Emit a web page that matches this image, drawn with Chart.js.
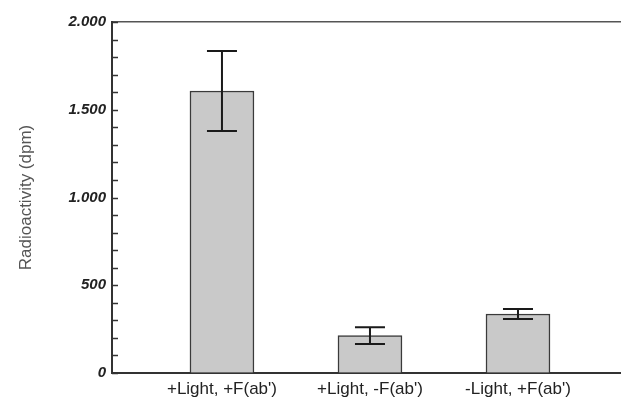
<!DOCTYPE html>
<html>
<head>
<meta charset="utf-8">
<script src="https://cdn.jsdelivr.net/npm/chart.js"></script>
<style>
  body { margin: 0; background: #fff; }
  #wrap { width: 621px; height: 400px; }
</style>
</head>
<body>
<div id="wrap"><canvas id="radioChart"></canvas></div>
<script>
    // ==============================
    // Datos
    // ==============================
    var categorias = ["+Light, +F(ab')", "+Light, -F(ab')", "-Light, +F(ab')"];
    var posiciones = [1, 2, 3];
    var valores = [1607, 213, 336];
    var errores = [228, 48, 28];
    var ticksMayores = [0, 500, 1000, 1500, 2000];

    function formatoMiles(v) {
        if (v >= 1000) {
            var s = String(v);
            return s.slice(0, s.length - 3) + "." + s.slice(-3);
        }
        return String(v);
    }

    // barras de error, dibujadas con las escalas del grafico
    var barrasError = {
        id: "barrasError",
        afterDatasetsDraw: function(chart) {
            var ctx = chart.ctx;
            var yScale = chart.scales.y;
            var meta = chart.getDatasetMeta(0);
            ctx.save();
            ctx.strokeStyle = "#1a1a1a";
            ctx.lineWidth = 2;
            meta.data.forEach(function(bar, i) {
                var yTop = yScale.getPixelForValue(valores[i] + errores[i]);
                var yBot = yScale.getPixelForValue(valores[i] - errores[i]);
                var cap = 15;
                ctx.beginPath();
                ctx.moveTo(bar.x, yTop); ctx.lineTo(bar.x, yBot);
                ctx.moveTo(bar.x - cap, yTop); ctx.lineTo(bar.x + cap, yTop);
                ctx.moveTo(bar.x - cap, yBot); ctx.lineTo(bar.x + cap, yBot);
                ctx.stroke();
            });
            ctx.restore();
        }
    };

    // marcas menores hacia dentro del eje Y
    var marcasEje = {
        id: "marcasEje",
        afterDraw: function(chart) {
            var ctx = chart.ctx;
            var yScale = chart.scales.y;
            var x0 = chart.chartArea.left;
            ctx.save();
            ctx.strokeStyle = "#333";
            ctx.lineWidth = 1.5;
            yScale.ticks.forEach(function(t) {
                var y = Math.round(yScale.getPixelForValue(t.value)) + 0.5;
                ctx.beginPath();
                ctx.moveTo(x0, y);
                ctx.lineTo(x0 + 6, y);
                ctx.stroke();
            });
            ctx.restore();
        }
    };

    var ctxRadio = document.getElementById("radioChart").getContext("2d");
    var radioChart = new Chart(ctxRadio, {
        type: "bar",
        data: {
            datasets: [{
                data: posiciones.map(function(p, i) { return { x: p, y: valores[i] }; }),
                backgroundColor: "#c9c9c9",
                borderColor: "#3a3a3a",
                borderWidth: 1.5,
                barThickness: 64
            }]
        },
        options: {
            responsive: true,
            maintainAspectRatio: false,
            animation: false,
            layout: { padding: { top: 22, right: 0, left: 0, bottom: 0 } },
            plugins: {
                legend: { display: false },
                tooltip: { enabled: false }
            },
            scales: {
                x: {
                    type: "linear",
                    offset: false,
                    min: 0.257,
                    max: 3.696,
                    afterBuildTicks: function(scale) {
                        scale.ticks = posiciones.map(function(p) { return { value: p }; });
                    },
                    afterFit: function(scale) { scale.height = 27; },
                    grid: { display: true, offset: false, drawOnChartArea: false, drawTicks: false },
                    border: { display: true, color: "#333", width: 2 },
                    ticks: {
                        autoSkip: false,
                        maxRotation: 0,
                        padding: 6,
                        color: "#222",
                        font: { family: "Liberation Sans", size: 17 },
                        callback: function(v) { return categorias[posiciones.indexOf(v)] || ""; }
                    }
                },
                x2: {
                    type: "linear",
                    position: "top",
                    min: 0,
                    max: 1,
                    grid: { display: true, drawOnChartArea: false, drawTicks: false },
                    border: { display: true, color: "#555", width: 1.5 },
                    ticks: { display: false }
                },
                y: {
                    min: 0,
                    max: 2000,
                    afterBuildTicks: function(scale) {
                        var t = [];
                        for (var v = 0; v <= 2000; v += 100) t.push({ value: v });
                        scale.ticks = t;
                    },
                    afterFit: function(scale) { scale.width = 112; },
                    grid: { display: true, drawOnChartArea: false, drawTicks: false },
                    border: { display: true, color: "#333", width: 2 },
                    ticks: {
                        autoSkip: false,
                        padding: 6,
                        color: "#222",
                        font: { family: "Liberation Sans", size: 15, weight: "bold", style: "italic" },
                        callback: function(v) { return ticksMayores.indexOf(v) >= 0 ? formatoMiles(v) : ""; }
                    },
                    title: {
                        display: true,
                        text: "Radioactivity (dpm)",
                        color: "#555",
                        padding: { top: 16, bottom: 0 },
                        font: { family: "Liberation Sans", size: 17 }
                    }
                }
            }
        },
        plugins: [barrasError, marcasEje]
    });
</script>
</body>
</html>
